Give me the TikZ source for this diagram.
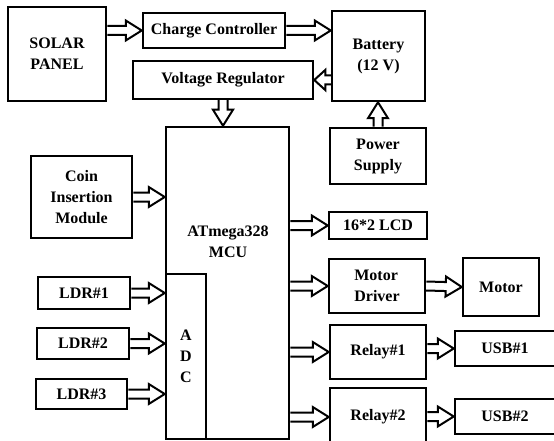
\documentclass[tikz,border=0pt]{standalone}
\usepackage{fontspec}
\setmainfont{Liberation Serif}
\usetikzlibrary{calc}

\begin{document}
\begin{tikzpicture}[x=1pt, y=-1pt,
		blk/.style={draw, line width=2.5pt, font=\bfseries\fontsize{16}{21}\selectfont, align=center, inner sep=0pt},
		fatarrow/.style={draw, line width=2pt, line join=miter, to path={
			($(\tikztostart)!4.5pt!90:(\tikztotarget)$) --
			($($(\tikztotarget)!#1!(\tikztostart)$)!4.5pt!90:(\tikztotarget)$) --
			($($(\tikztotarget)!#1!(\tikztostart)$)!10pt!90:(\tikztotarget)$) --
			(\tikztotarget) --
			($($(\tikztotarget)!#1!(\tikztostart)$)!10pt!-90:(\tikztotarget)$) --
			($($(\tikztotarget)!#1!(\tikztostart)$)!4.5pt!-90:(\tikztotarget)$) --
			($(\tikztostart)!4.5pt!-90:(\tikztotarget)$)}},
		fatarrow/.default=16pt]
				\useasboundingbox (0,0) rectangle (554,441);

				% Draw the power blocks
				\node[blk, minimum width=98pt, minimum height=94pt] (solar) at (57,54) {SOLAR\\PANEL};
				\node[blk, minimum width=142pt, minimum height=35pt] (charge) at (214,30.5) {Charge Controller};
				\node[blk, minimum width=180pt, minimum height=38pt] (volt) at (223,80) {Voltage Regulator};
				\node[blk, minimum width=93pt, minimum height=90pt] (batt) at (378.5,56) {Battery\\(12 V)};
				\node[blk, minimum width=96pt, minimum height=56pt] (power) at (378,156) {Power\\Supply};

				% Draw the controller
				\node[blk, minimum width=123pt, minimum height=312pt] (mcu) at (227.5,283) {};
				\node[blk, minimum width=40pt, minimum height=165pt] (adc) at (186,356.5) {A\\D\\C};
				\node[font=\bfseries\fontsize{16}{21}\selectfont, align=center] (mcutext) at (228,242) {ATmega328\\MCU};

				% Draw the inputs
				\node[blk, minimum width=101pt, minimum height=82pt] (coin) at (81.5,197) {Coin\\Insertion\\Module};
				\node[blk, minimum width=92pt, minimum height=32pt] (ldr1) at (84,293) {LDR\#1};
				\node[blk, minimum width=92pt, minimum height=31pt] (ldr2) at (83,343.5) {LDR\#2};
				\node[blk, minimum width=91pt, minimum height=30pt] (ldr3) at (81.5,394) {LDR\#3};

				% Draw the outputs
				\node[blk, minimum width=98pt, minimum height=27pt] (lcd) at (378,225.5) {16*2 LCD};
				\node[blk, minimum width=96pt, minimum height=54pt, align=left] (driver) at (377,286) {Motor\\Driver};
				\node[blk, minimum width=76pt, minimum height=58pt] (motor) at (501,287) {Motor};
				\node[blk, minimum width=96pt, minimum height=54pt] (relay1) at (378,352) {Relay\#1};
				\node[blk, minimum width=100pt, minimum height=35pt] (usb1) at (505,348.5) {USB\#1};
				\node[blk, minimum width=96pt, minimum height=58pt] (relay2) at (378,417) {Relay\#2};
				\node[blk, minimum width=100pt, minimum height=35pt] (usb2) at (505,416.5) {USB\#2};

				% Draw the arrows
				\draw[fatarrow] (solar.east |- charge.west) to (charge.west);
				\draw[fatarrow] (charge.east) to (charge.east -| batt.west);
				\draw[fatarrow=11pt] (batt.west |- volt.east) to (volt.east);
				\draw[fatarrow] (power.north) to (power.north |- batt.south);
				\draw[fatarrow] (volt.south) to (volt.south |- mcu.north);
				\draw[fatarrow] (coin.east) to (coin.east -| mcu.west);
				\foreach \n in {1,2,3}
					\draw[fatarrow] (ldr\n.east) to (ldr\n.east -| adc.west);
				\draw[fatarrow] (mcu.east |- lcd.west) to (lcd.west);
				\foreach \n in {driver, relay1, relay2}
					\draw[fatarrow] (mcu.east |- \n.west) to (\n.west);
				\draw[fatarrow] (driver.east) to (motor.west);
				\draw[fatarrow] (relay1.east |- usb1.west) to (usb1.west);
				\draw[fatarrow] (relay2.east |- usb2.west) to (usb2.west);

			\end{tikzpicture}
\end{document}
